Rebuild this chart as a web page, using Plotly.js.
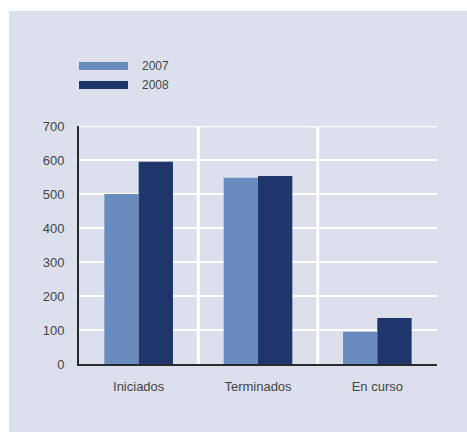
<!DOCTYPE html>
<html>
<head>
<meta charset="utf-8">
<script src="https://cdn.plot.ly/plotly-3.0.1.min.js"></script>
<style>
  html, body { margin: 0; padding: 0; background: #ffffff; width: 467px; height: 432px; overflow: hidden; }
  #chart { position: absolute; left: 9px; top: 11px; width: 458px; height: 421px; }
</style>
</head>
<body>
<div id="chart"></div>
<script>
const categories = ["Iniciados", "Terminados", "En curso"];
const values2007 = [500, 548, 95];
const values2008 = [595, 553, 135];
const seriesNames = ["2007", "2008"];
const yTicks = [0, 100, 200, 300, 400, 500, 600, 700];

const colors = ["#6a8bbe", "#1e366c"];
const panel = "#dce0ec";
const textColor = "#444444";
const fontFamily = "'Liberation Sans', Arial, sans-serif";

const traces = [
  { type: "bar", x: categories, y: values2007, name: seriesNames[0],
    marker: { color: colors[0] }, showlegend: false, hoverinfo: "skip" },
  { type: "bar", x: categories, y: values2008, name: seriesNames[1],
    marker: { color: colors[1] }, showlegend: false, hoverinfo: "skip" }
];

// Manual legend (wide flat swatches) placed in paper coordinates
const legY = [[1.2353, 1.2689], [1.1555, 1.1891]];
const shapes = [];
const annotations = [];
seriesNames.forEach((n, i) => {
  shapes.push({ type: "rect", xref: "paper", yref: "paper", x0: 0, x1: 0.1369,
    y0: legY[i][0], y1: legY[i][1], fillcolor: colors[i], line: { width: 0 } });
  annotations.push({ xref: "paper", yref: "paper", x: 0.1704, y: (legY[i][0] + legY[i][1]) / 2,
    xanchor: "left", yanchor: "middle", showarrow: false, text: n,
    font: { family: fontFamily, size: 12, color: textColor } });
});
// vertical separators between categories
[0.5, 1.5].forEach(v => {
  shapes.push({ type: "line", xref: "x", yref: "paper", x0: v, x1: v, y0: 0, y1: 1,
    line: { color: "#ffffff", width: 3 }, layer: "below" });
});
// top gridline at the last tick
shapes.push({ type: "line", xref: "paper", yref: "y", x0: 0, x1: 1,
  y0: yTicks[yTicks.length - 1], y1: yTicks[yTicks.length - 1],
  line: { color: "#ffffff", width: 2.5 }, layer: "below" });

const layout = {
  width: 458, height: 421,
  margin: { l: 70, r: 30, t: 115, b: 68 },
  paper_bgcolor: panel, plot_bgcolor: panel,
  barmode: "group", bargap: 0.425, bargroupgap: 0,
  showlegend: false,
  font: { family: fontFamily, size: 13, color: textColor },
  xaxis: {
    type: "category", showgrid: false, zeroline: false,
    showline: true, linecolor: "#2a2a2a", linewidth: 2,
    ticks: "", ticklabelstandoff: 9,
    tickfont: { family: fontFamily, size: 13, color: textColor }
  },
  yaxis: {
    range: [0, 700], tickvals: yTicks, ticktext: yTicks.map(String),
    showgrid: true, gridcolor: "#ffffff", gridwidth: 2.5,
    zeroline: false, showline: true, linecolor: "#2a2a2a", linewidth: 2,
    ticks: "", ticklabelstandoff: 10,
    tickfont: { family: fontFamily, size: 13, color: textColor }
  },
  shapes: shapes,
  annotations: annotations
};

Plotly.newPlot("chart", traces, layout, { staticPlot: true, displayModeBar: false });
</script>
</body>
</html>
